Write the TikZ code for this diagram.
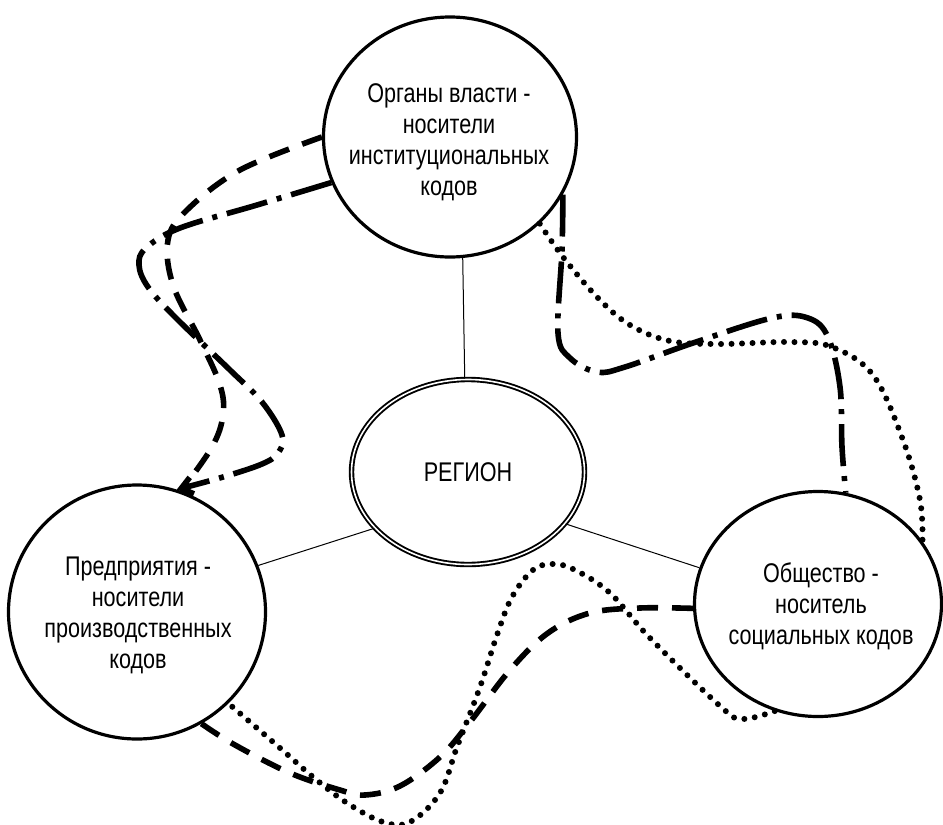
\documentclass[tikz,border=0pt]{standalone}
\usepackage{fontspec}
\setmainfont{Liberation Sans}[FakeStretch=0.8]
\usepackage{tikz}
\usetikzlibrary{shapes.geometric}
\usetikzlibrary{arrows.meta}

\begin{document}
\begin{tikzpicture}[x=1pt,y=-1pt,
        krug/.style={draw,ellipse,line width=3.2pt,fill=white,inner sep=0pt},
        nadpis/.style={font=\fontsize{27}{31}\selectfont,align=center},
        svyaz/.style={line width=1pt},
        shtrih/.style={line width=5.6pt,dash pattern=on 21pt off 14pt},
        tochki/.style={line width=6pt,line cap=round,dash pattern=on 0pt off 10.5pt},
        shtrihpunkt/.style={line width=5.6pt,dash pattern=on 42pt off 10pt on 5pt off 10pt}]
            \useasboundingbox (0,0) rectangle (943,825);
            \node[krug,minimum width=253pt,minimum height=240pt] (vlast) at (450,137) {};
            \node[krug,minimum width=257pt,minimum height=254pt] (predpr) at (137,612) {};
            \node[krug,minimum width=247pt,minimum height=225pt] (obshch) at (818,604) {};
            \node[draw,ellipse,double,double distance=1.6pt,line width=1.9pt,fill=white,
                minimum width=233pt,minimum height=185pt,nadpis] (region) at (468,472) {РЕГИОН};
            \node[nadpis] (vlastT) at (449,142) {Органы власти -\\носители\\институциональных\\кодов};
            \node[nadpis] (predprT) at (138,615) {Предприятия -\\носители\\производственных\\кодов};
            \node[nadpis] (obshchT) at (821,606) {Общество -\\носитель\\социальных кодов};
            \draw[svyaz] (vlast.276) -- (region.92);
            \draw[svyaz] (predpr.21) -- (region.211);
            \draw[svyaz] (obshch.163) -- (region.332);
            \draw[shtrih] plot[smooth,tension=0.6] coordinates {(vlast.180) (240,170) (187,210) (168,240) (173,285) (200,340) (220,385) (223,415) (212,447) (predpr.70)};
            \draw[shtrihpunkt,-{Straight Barb[length=11pt,width=17pt]}] plot[smooth,tension=0.6] coordinates {(vlast.201) (257,205) (180,228) (146,248) (139,265) (148,287) (175,317) (230,370) (262,402) (282,435) (278,453) (262,464) (223,477) (predpr.72)};
            \draw[shtrihpunkt] plot[smooth,tension=0.6] coordinates {(vlast.333) (562,250) (558,333) (570,358) (597,372) (625,367) (693,343) (772,318) (808,318) (828,337) (840,387) (842,447) (obshch.76)};
            \draw[tochki] plot[smooth,tension=0.6] coordinates {(vlast.316) (563,257) (598,298) (630,325) (670,341) (720,344) (790,342) (832,347) (873,375) (903,440) (920,500) (obshch.31)};
            \draw[tochki] plot[smooth,tension=0.6] coordinates {(obshch.248) (742,719) (720,706) (650,638) (610,593) (575,570) (553,564) (533,570) (512,597) (497,635) (480,687) (457,747) (440,793) (410,822) (383,822) (347,803) (313,777) (280,748) (predpr.315)};
            \draw[shtrih] plot[smooth,tension=0.6] coordinates {(predpr.300) (235,745) (290,773) (340,790) (365,795) (400,786) (440,757) (470,722) (510,670) (548,633) (590,613) (640,608) (obshch.182)};
\end{tikzpicture}
\end{document}
